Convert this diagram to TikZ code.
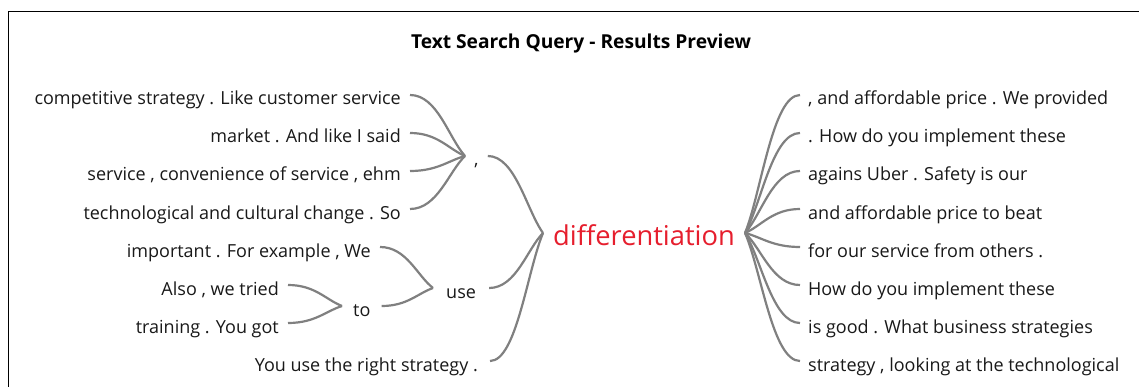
\documentclass[tikz,border=0pt]{standalone}
\usepackage{fontspec}
\setmainfont{Open Sans}
\usetikzlibrary{calc}
\definecolor{branchgray}{RGB}{128,128,128}
\definecolor{keyred}{RGB}{230,30,45}
\definecolor{textdark}{RGB}{25,25,25}
\tikzset{
  branch/.style={draw=branchgray, line width=2.2pt},
  wtext/.style={font=\fontsize{18}{21}\selectfont, text=textdark, inner ysep=0pt, text height=22pt, text depth=2pt},
  lefttext/.style={wtext, anchor=east, inner xsep=9pt},
  righttext/.style={wtext, anchor=west, inner xsep=8pt},
  hub/.style={wtext, anchor=west},
}
\newcommand\lbranch[2]{\path[branch] let \p1=(#1), \p2=(#2) in (\p1) .. controls (\x1/2+\x2/2, \y1) and ($(\p2)!0.3!(\p1)$) .. (\p2);}
\newcommand\rbranch[2]{\path[branch] let \p1=(#1), \p2=(#2) in (\p1) .. controls ($(\p1)!0.3!(\p2)$) and (\x1/2+\x2/2, \y2) .. (\p2);}
\begin{document}
\begin{tikzpicture}[x=1pt, y=-1pt]
\useasboundingbox[fill=white] (0,0) rectangle (1139,387);
\draw[line width=1.8pt] (8.5,387) |- (1139,11.5);
\node[font=\bfseries\fontsize{19.2}{23}\selectfont, text=black] (title) at (581,44) {Text Search Query - Results Preview};
% left side
\node[lefttext] (l1) at (410,95) {competitive strategy . Like customer service};
\node[lefttext] (l2) at (410,133) {market . And like I said};
\node[lefttext] (l3) at (410,171) {service , convenience of service , ehm};
\node[lefttext] (l4) at (410,209) {technological and cultural change . So};
\node[lefttext] (l5) at (380,247) {important . For example , We};
\node[lefttext] (l6) at (288,285) {Also , we tried};
\node[lefttext] (l7) at (288,323) {training . You got};
\node[lefttext, inner xsep=12pt] (l8) at (490,361) {You use the right strategy .};
\node[hub, inner xsep=9pt] (comma) at (465,156) {,};
\node[hub, inner xsep=13pt] (use) at (433,288) {use};
\node[hub, inner xsep=11pt] (to) at (342,306) {to};
\node[font=\fontsize{27.3}{32}\selectfont, text=keyred, anchor=west, inner xsep=10pt, inner ysep=0pt, text height=27pt, text depth=3pt] (diff) at (543,233) {differentiation};
% right side
\node[righttext] (r1) at (800,95) {, and affordable price . We provided};
\node[righttext] (r2) at (800,133) {. How do you implement these};
\node[righttext] (r3) at (800,171) {agains Uber . Safety is our};
\node[righttext] (r4) at (800,209) {and affordable price to beat};
\node[righttext] (r5) at (800,247) {for our service from others .};
\node[righttext] (r6) at (800,285) {How do you implement these};
\node[righttext] (r7) at (800,323) {is good . What business strategies};
\node[righttext] (r8) at (800,361) {strategy , looking at the technological};
% connectors
\lbranch{l1.east}{comma.west}
\lbranch{l2.east}{comma.west}
\lbranch{l3.east}{comma.west}
\lbranch{l4.east}{comma.west}
\lbranch{l5.east}{use.west}
\lbranch{l6.east}{to.west}
\lbranch{l7.east}{to.west}
\lbranch{to.east}{use.west}
\lbranch{comma.east}{diff.west}
\lbranch{use.east}{diff.west}
\lbranch{l8.east}{diff.west}
\rbranch{diff.east}{r1.west}
\rbranch{diff.east}{r2.west}
\rbranch{diff.east}{r3.west}
\rbranch{diff.east}{r4.west}
\rbranch{diff.east}{r5.west}
\rbranch{diff.east}{r6.west}
\rbranch{diff.east}{r7.west}
\rbranch{diff.east}{r8.west}
\end{tikzpicture}
\end{document}
